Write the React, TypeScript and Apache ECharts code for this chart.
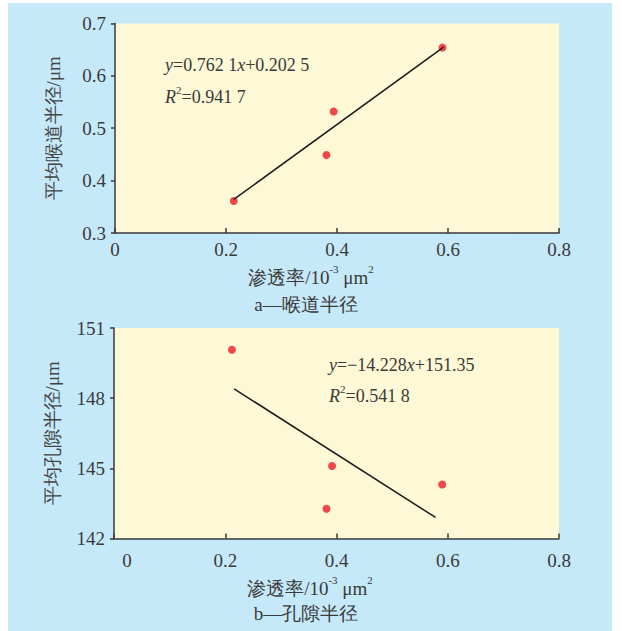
import React, { useEffect, useRef } from "react";
import * as echarts from "echarts";

// Panel a: throat radius
const permA = [0.214, 0.381, 0.394, 0.59];
const throatA = [0.361, 0.449, 0.532, 0.654];
const fitA = [
  [0.214, 0.364],
  [0.592, 0.655],
];
// Panel b: pore radius
const permB = [0.212, 0.382, 0.392, 0.59];
const poreB = [150.07, 143.27, 145.1, 144.31];
const fitB = [
  [0.216, 148.4],
  [0.578, 142.9],
];
const xTicks = [0, 0.2, 0.4, 0.6, 0.8];
const yTicksA = [0.3, 0.4, 0.5, 0.6, 0.7];
const yTicksB = [142, 145, 148, 151];

const eqA = "{i|y}=0.762 1{i|x}+0.202 5";
const r2A = "{i|R}{sup|2}=0.941 7";
const eqB = "{i|y}=−14.228{i|x}+151.35";
const r2B = "{i|R}{sup|2}=0.541 8";
const xName = "渗透率/10{sup|-3} μm{sup|2}";
const yNameA = "平均喉道半径/μm";
const yNameB = "平均孔隙半径/μm";
const subA = "a—喉道半径";
const subB = "b—孔隙半径";

const FONT = "Liberation Serif, Times New Roman, serif";
const TXT = "#3a3a3a";
const AX = "#3a3a3a";
const richBase = {
  i: { fontStyle: "italic", fontSize: 18, fontFamily: FONT, fill: TXT, color: TXT },
  sup: { fontSize: 11, fontFamily: FONT, verticalAlign: "top", height: 3, fill: TXT, color: TXT },
};

export default function App() {
  const ref = useRef<HTMLDivElement>(null);
  useEffect(() => {
    document.body.style.margin = "0";
    const chart = echarts.init(ref.current!, null, { renderer: "svg" });
    const xAxisCommon = (gi: number, margin: number) => ({
      type: "value",
      gridIndex: gi,
      min: 0,
      max: 0.8,
      interval: 0.2,
      axisLine: { show: true, lineStyle: { color: AX, width: 1.5 } },
      axisTick: { show: true, inside: true, length: 5, lineStyle: { color: AX, width: 1.5 }, customValues: xTicks },
      splitLine: { show: false },
      axisLabel: {
        customValues: xTicks,
        margin,
        fontSize: 19,
        fontFamily: FONT,
        color: TXT,
        formatter: (v: number) => (gi === 1 && v === 0 ? "{z|0}" : String(v)),
        rich: { z: { padding: [0, 0, 0, 26], fontSize: 19, fontFamily: FONT, color: TXT } },
      },
    });
    const yAxisCommon = (gi: number, min: number, max: number, ticks: number[], name: string) => ({
      type: "value",
      gridIndex: gi,
      min,
      max,
      name,
      nameLocation: "middle",
      nameRotate: 90,
      nameGap: 52,
      nameTextStyle: { fontSize: 19, fontFamily: FONT, color: "#444" },
      axisLine: { show: true, lineStyle: { color: AX, width: 1.5 } },
      axisTick: { show: true, inside: false, length: 4, lineStyle: { color: AX, width: 1.5 }, customValues: ticks },
      splitLine: { show: false },
      axisLabel: { customValues: ticks, margin: 9, fontSize: 19, fontFamily: FONT, color: TXT },
    });
    const txt = (x: number, y: number, text: string, size = 18, align = "left") => ({
      type: "text",
      x,
      y,
      style: {
        text,
        fontSize: size,
        fontFamily: FONT,
        fill: TXT,
        align,
        verticalAlign: "middle",
        rich: richBase,
      },
    });
    chart.setOption({
      animation: false,
      backgroundColor: "#ffffff",
      graphic: [
        { type: "rect", z: -100, shape: { x: 8, y: 3, width: 604, height: 628 }, style: { fill: "#c6e9f9" } },
        txt(165, 65, eqA),
        txt(165, 97, r2A),
        txt(329, 365, eqB),
        txt(329, 396, r2B),
        txt(311, 277, xName, 19, "center"),
        txt(306, 304, subA, 19, "center"),
        txt(310, 588, xName, 19, "center"),
        txt(306, 613, subB, 19, "center"),
      ],
      grid: [
        { left: 115, top: 23.5, width: 444, height: 209.5, show: true, backgroundColor: "#fdf8d6", borderWidth: 0 },
        { left: 114, top: 328, width: 445, height: 210.5, show: true, backgroundColor: "#fdf8d6", borderWidth: 0 },
      ],
      xAxis: [xAxisCommon(0, 7), xAxisCommon(1, 12)],
      yAxis: [
        yAxisCommon(0, 0.3, 0.7, yTicksA, yNameA),
        yAxisCommon(1, 142, 151, yTicksB, yNameB),
      ],
      series: [
        {
          type: "line",
          xAxisIndex: 0,
          yAxisIndex: 0,
          data: fitA,
          symbol: "none",
          lineStyle: { color: "#1a1a1a", width: 1.5 },
        },
        {
          type: "scatter",
          xAxisIndex: 0,
          yAxisIndex: 0,
          data: permA.map((x, i) => [x, throatA[i]]),
          symbolSize: 8,
          itemStyle: { color: "#ec1c24" },
        },
        {
          type: "line",
          xAxisIndex: 1,
          yAxisIndex: 1,
          data: fitB,
          symbol: "none",
          lineStyle: { color: "#1a1a1a", width: 1.5 },
        },
        {
          type: "scatter",
          xAxisIndex: 1,
          yAxisIndex: 1,
          data: permB.map((x, i) => [x, poreB[i]]),
          symbolSize: 8,
          itemStyle: { color: "#ec1c24" },
        },
      ],
    });
    return () => chart.dispose();
  }, []);
  return <div ref={ref} style={{ width: 622, height: 631 }} />;
}
